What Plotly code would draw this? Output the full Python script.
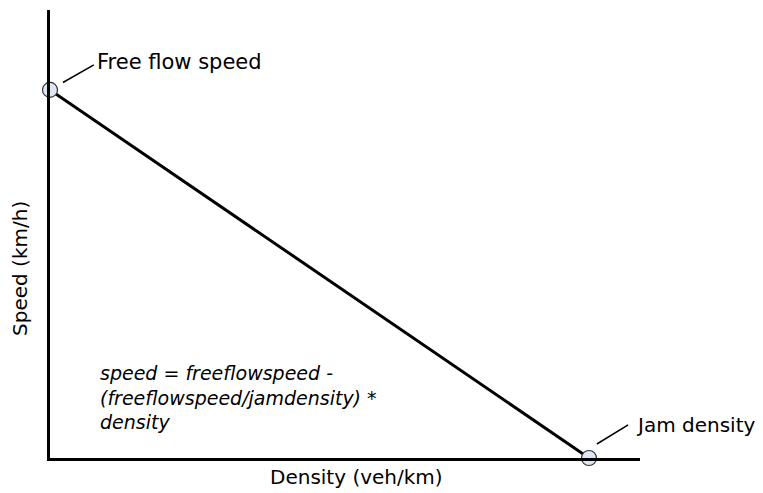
import plotly.graph_objects as go

# model parameters (arbitrary units, chart has no ticks)
free_flow_speed = 100
jam_density = 150
density = [0, jam_density]
speed = [free_flow_speed, 0]
point_labels = ["Free flow speed", "Jam density"]
formula = "speed = freeflowspeed -<br>(freeflowspeed/jamdensity) *<br>density"

x_max = 164.2
y_max = 121.7
font = "DejaVu Sans"

fig = go.Figure()
fig.add_trace(go.Scatter(
    x=density, y=speed, mode="lines",
    line=dict(color="black", width=3),
    hoverinfo="skip", cliponaxis=False,
))
fig.add_trace(go.Scatter(
    x=density, y=speed, mode="markers",
    marker=dict(size=15, color="#dfe6f4", line=dict(color="#333", width=1.2)),
    cliponaxis=False,
))

# leader lines + labels
fig.add_shape(type="line", x0=density[0] + 3.6, y0=speed[0] + 2.0,
              x1=density[0] + 12.2, y1=speed[0] + 6.8,
              line=dict(color="black", width=1.5))
fig.add_annotation(x=density[0] + 12.6, y=speed[0] + 7.6, text=point_labels[0],
                   showarrow=False, xanchor="left", yanchor="middle",
                   font=dict(family=font, size=21, color="black"))
fig.add_shape(type="line", x0=jam_density + 2.2, y0=speed[1] + 3.8,
              x1=jam_density + 10.9, y1=speed[1] + 9.0,
              line=dict(color="black", width=1.5))
fig.add_annotation(x=jam_density + 12.6, y=speed[1] + 9.0, text=point_labels[1],
                   showarrow=False, xanchor="left", yanchor="middle",
                   font=dict(family=font, size=20, color="black"))

fig.add_annotation(x=0.082, y=0.136, xref="paper", yref="paper", text="<i>" + formula + "</i>",
                   showarrow=False, xanchor="left", yanchor="middle", align="left",
                   font=dict(family=font, size=19, color="black"))

fig.add_annotation(x=-0.051, y=0.424, xref="paper", yref="paper", text="Speed (km/h)",
                   showarrow=False, textangle=-90, xanchor="center", yanchor="middle",
                   font=dict(family=font, size=20, color="black"))
fig.add_annotation(x=0.519, y=-0.043, xref="paper", yref="paper", text="Density (veh/km)",
                   showarrow=False, xanchor="center", yanchor="middle",
                   font=dict(family=font, size=20, color="black"))

fig.update_layout(
    width=755, height=485,
    template=None,
    showlegend=False,
    plot_bgcolor="white", paper_bgcolor="white",
    margin=dict(l=42, r=123, t=2, b=35),
    xaxis=dict(range=[0, x_max], showline=True, linecolor="black", linewidth=3,
               showgrid=False, zeroline=False, showticklabels=False, ticks=""),
    yaxis=dict(range=[0, y_max], showline=True, linecolor="black", linewidth=3,
               showgrid=False, zeroline=False, showticklabels=False, ticks=""),
)

fig.write_html("out.html")
